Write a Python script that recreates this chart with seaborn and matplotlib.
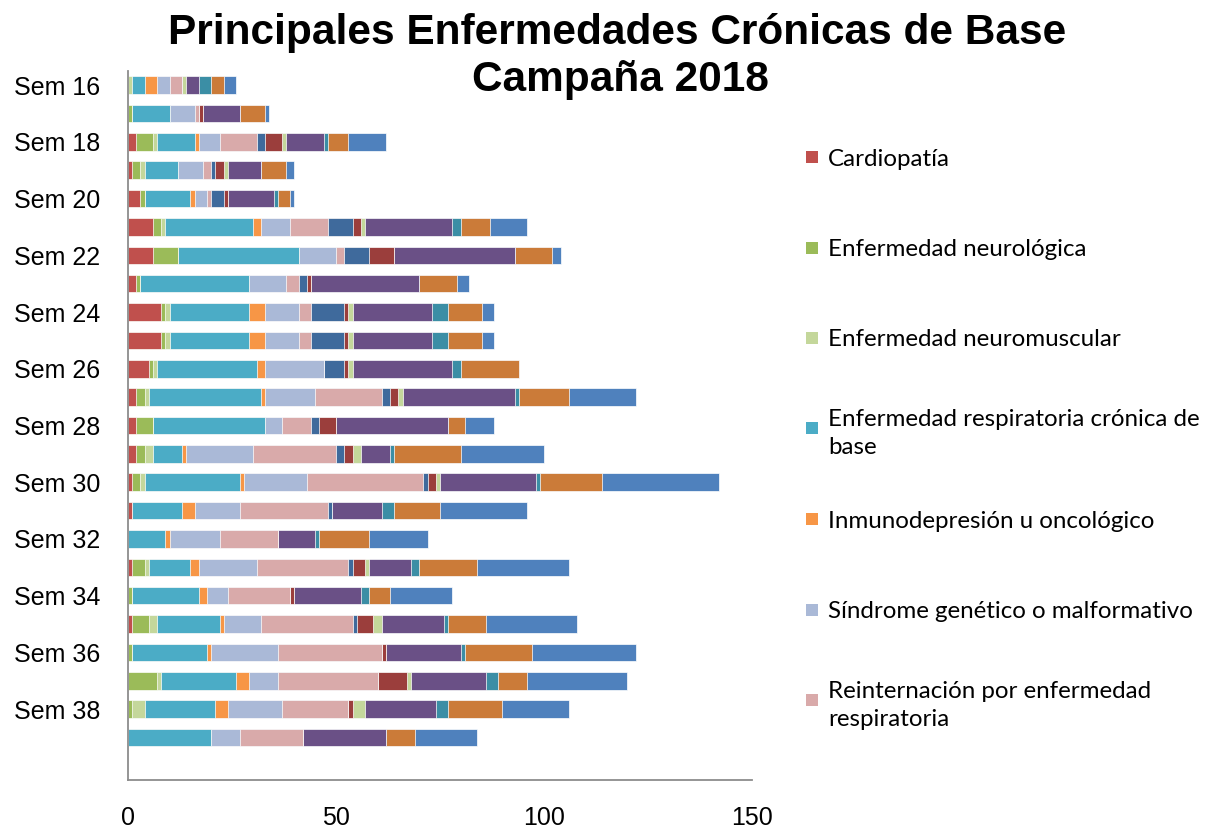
import pandas as pd
import seaborn as sns
import matplotlib.pyplot as plt
from matplotlib.patches import Rectangle

# semanas epidemiologicas (filas del grafico)
semanas = ["Sem 16", "Sem 17", "Sem 18", "Sem 19", "Sem 20", "Sem 21", "Sem 22", "Sem 23",
           "Sem 24", "Sem 25", "Sem 26", "Sem 27", "Sem 28", "Sem 29", "Sem 30", "Sem 31",
           "Sem 32", "Sem 33", "Sem 34", "Sem 35", "Sem 36", "Sem 37", "Sem 38", "Sem 39"]

cardiopatia = [0, 0, 2, 1, 3, 6, 6, 2, 8, 8, 5, 2, 2, 2, 1, 1, 0, 1, 0, 1, 0, 0, 0, 0]
neurologica = [0, 1, 4, 2, 1, 2, 6, 1, 1, 1, 1, 2, 4, 2, 2, 0, 0, 3, 1, 4, 1, 7, 1, 0]
neuromuscular = [1, 0, 1, 1, 0, 1, 0, 0, 1, 1, 1, 1, 0, 2, 1, 0, 0, 1, 0, 2, 0, 1, 3, 0]
respiratoria = [3, 9, 9, 8, 11, 21, 29, 26, 19, 19, 24, 27, 27, 7, 23, 12, 9, 10, 16, 15, 18, 18, 17, 20]
inmuno = [3, 0, 1, 0, 1, 2, 0, 0, 4, 4, 2, 1, 0, 1, 1, 3, 1, 2, 2, 1, 1, 3, 3, 0]
sindrome = [3, 6, 5, 6, 3, 7, 9, 9, 8, 8, 14, 12, 4, 16, 15, 11, 12, 14, 5, 9, 16, 7, 13, 7]
reinternacion = [3, 1, 9, 2, 1, 9, 2, 3, 3, 3, 0, 16, 7, 20, 28, 21, 14, 22, 15, 22, 25, 24, 16, 15]

etiquetas = ["Cardiopatía", "Enfermedad neurológica", "Enfermedad neuromuscular",
             "Enfermedad respiratoria crónica de\nbase", "Inmunodepresión u oncológico",
             "Síndrome genético o malformativo", "Reinternación por enfermedad\nrespiratoria"]

# la planilla original repite las 7 series (segundo bloque con otros colores)
colores = ["#C0504D", "#9BBB59", "#C4D79B", "#4BACC6", "#F79646", "#AAB9D7", "#D9AAAA",
           "#3F6A9C", "#9B3E3C", "#C4D79B", "#6A5086", "#3B8EA5", "#CB7B39", "#4F81BD"]

df = pd.DataFrame({
    "cardiopatia": cardiopatia, "neurologica": neurologica, "neuromuscular": neuromuscular,
    "respiratoria": respiratoria, "inmuno": inmuno, "sindrome": sindrome,
    "reinternacion": reinternacion,
}, index=semanas)
bloques = pd.concat([df, df.add_suffix("_2")], axis=1)
acumulado = bloques.cumsum(axis=1)

sns.set_theme(style="white")
plt.rcParams["font.family"] = ["Liberation Sans", "DejaVu Sans"]
plt.rcParams["text.color"] = "black"
plt.rcParams["xtick.color"] = "black"
plt.rcParams["ytick.color"] = "black"

fig = plt.figure(figsize=(12.13, 8.32), dpi=100)
ax = fig.add_axes([128 / 1213, 52 / 832, 624 / 1213, 709 / 832])

# barras apiladas: se dibuja del acumulado mayor al menor
for j in range(acumulado.shape[1] - 1, -1, -1):
    sns.barplot(x=acumulado.iloc[:, j].values, y=semanas, orient="h", color=colores[j],
                saturation=1, width=0.62, edgecolor="white", linewidth=0.5, ax=ax)

ax.set_xlim(0, 150)
ax.set_ylim(24.5, -0.5)
ax.set_xticks([0, 50, 100, 150])
ax.set_yticks(range(0, len(semanas), 2))
ax.set_yticklabels(semanas[::2])
ax.tick_params(axis="x", length=0, pad=19, labelsize=18, labelcolor="black")
ax.tick_params(axis="y", length=0, pad=20, labelsize=18, labelcolor="black")
ax.set_xlabel("")
ax.set_ylabel("")
for s in ["top", "right"]:
    ax.spines[s].set_visible(False)
for s in ["left", "bottom"]:
    ax.spines[s].set_color("#8C8C8C")
    ax.spines[s].set_linewidth(1.3)

fig.text(617 / 1213, 1 - 33 / 832, "Principales Enfermedades Crónicas de Base",
         ha="center", va="center", fontsize=30.5, fontweight="bold", color="black")
fig.text(620 / 1213, 1 - 80 / 832, "Campaña 2018",
         ha="center", va="center", fontsize=30.5, fontweight="bold", color="black")

# leyenda (solo el primer bloque de series)
for i, lab in enumerate(etiquetas):
    yc = 157 + 90.5 * i
    fig.add_artist(Rectangle((806 / 1213, 1 - (yc + 6) / 832), 12 / 1213, 12 / 832,
                             transform=fig.transFigure, facecolor=colores[i], edgecolor="none"))
    fig.text(828 / 1213, 1 - yc / 832, lab, ha="left", va="center_baseline",
             fontsize=17.4, family=["Lato", "DejaVu Sans"], linespacing=1.4, color="black")

fig.savefig("out.png", dpi=100)
